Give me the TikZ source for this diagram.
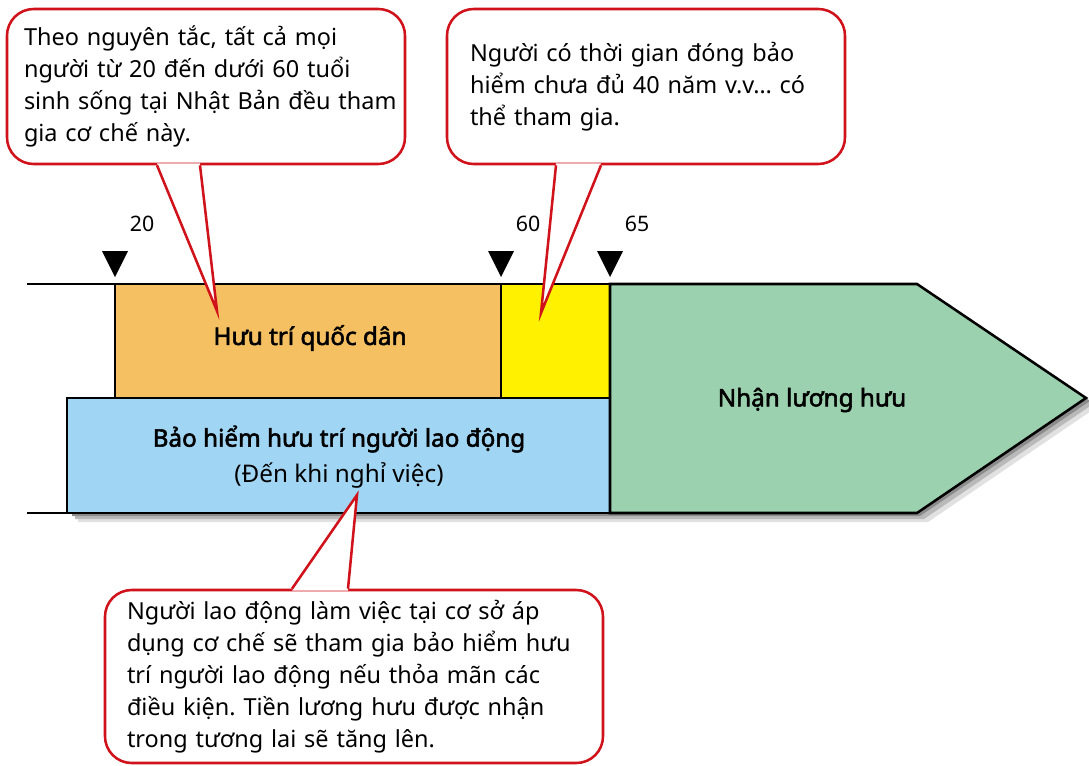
\documentclass[tikz,border=0pt]{standalone}
\usepackage{fontspec}
\setmainfont{Noto Sans}[BoldFont={Noto Sans}, BoldFeatures={FakeBold=2.2}]
\definecolor{nationalorange}{RGB}{245,192,97}
\definecolor{extrayellow}{RGB}{255,241,0}
\definecolor{employeeblue}{RGB}{160,213,243}
\definecolor{receivegreen}{RGB}{156,209,175}
\definecolor{calloutred}{RGB}{208,18,27}
\definecolor{shadowlight}{RGB}{225,225,225}
\definecolor{shadowmid}{RGB}{185,185,185}
\definecolor{shadowdark}{RGB}{140,140,140}
\frenchspacing

\begin{document}
\begin{tikzpicture}[x=0.75pt, y=-0.75pt, font=\fontsize{17.6pt}{24pt}\selectfont,
	box/.style={draw=black, line width=1.9pt, line join=miter},
	note/.style={draw=calloutred, line width=1.9pt, fill=white, rounded corners=20pt, align=left, inner ysep=0pt, minimum height=116.25pt},
	tail/.style={draw=calloutred, line width=1.9pt},
	label/.style={font=\fontsize{18.2pt}{24pt}\selectfont\bfseries},
	age/.style={font=\fontsize{16pt}{20pt}\selectfont}]
	\useasboundingbox (0,0) rectangle (1089,765);
	%shadow below the band
	\fill[shadowlight] (78,513) -- (917,513) -- (1086,398) -- (1097,407) -- (928,522) -- (78,522) -- cycle;
	\fill[shadowmid] (75,513) -- (917,513) -- (1086,398) -- (1093,404) -- (924,519) -- (75,519) -- cycle;
	\fill[shadowdark] (72,513) -- (917,513) -- (1086,398) -- (1090,401) -- (920,516) -- (72,516) -- cycle;
	%start lines
	\draw[line width=1.5pt] (27,284) -- (115,284);
	\draw[line width=1.5pt] (27,513) -- (67,513);
	%periods
	\filldraw[box, fill=nationalorange] (115,284) rectangle (501,398);
	\filldraw[box, fill=extrayellow] (501,284) rectangle (610,398);
	\filldraw[box, fill=employeeblue] (67,398) rectangle (610,513);
	\filldraw[box, fill=receivegreen] (610,284) -- (917,284) -- (1086,398) -- (917,513) -- (610,513) -- cycle;
	%labels
	\node[label] (national) at (310,338) {Hưu trí quốc dân};
	\node[label, align=center] (employee) at (339,457) {Bảo hiểm hưu trí người lao động\\[3pt]\mdseries (Đến khi nghỉ việc)};
	\node[label] (receive) at (812,400) {Nhận lương hưu};
	%age marks
	\foreach \x/\age in {115/20, 501/60, 610/65}{
		\fill (\x-13,251) -- (\x+13,251) -- (\x,277) -- cycle;
		\node[age] (age \age) at (\x+27,224) {\age};
	}
	%callouts
	\node[note, text width=273pt, inner xsep=12.75pt] (note left) at (206,86.5)
	{Theo nguyên tắc, tất cả mọi\\người từ 20 đến dưới 60 tuổi\\\mbox{sinh sống tại Nhật Bản đều tham}\\gia cơ chế này.};
	\node[note, text width=264pt, inner xsep=17.25pt] (note right) at (646,86.5)
	{Người có thời gian đóng bảo\\hiểm chưa đủ 40 năm v.v… có\\thể tham gia.};
	\node[note, text width=340.5pt, inner xsep=16.5pt, minimum height=129.75pt] (note bottom) at (354,676.5)
	{Người lao động làm việc tại cơ sở áp\\dụng cơ chế sẽ tham gia bảo hiểm hưu\\trí người lao động nếu thỏa mãn các\\điều kiện. Tiền lương hưu được nhận\\trong tương lai sẽ tăng lên.};
	\coordinate (tip left) at (217,311);
	\coordinate (tip right) at (541,313);
	\coordinate (tip bottom) at (357,495);
	\foreach \anc/\a/\b/\tip/\s in {note left.south/-36.75/-4.5/tip left/1.5,
		note right.south/-67.5/-33.75/tip right/1.5,
		note bottom.north/-46.5/-4.5/tip bottom/-1.5}{
		\fill[white] ([xshift=\a pt, yshift=\s pt]\anc) -- (\tip) -- ([xshift=\b pt, yshift=\s pt]\anc) -- cycle;
		\draw[tail] ([xshift=\a pt]\anc) -- (\tip) -- ([xshift=\b pt]\anc);
	}
\end{tikzpicture}
\end{document}
